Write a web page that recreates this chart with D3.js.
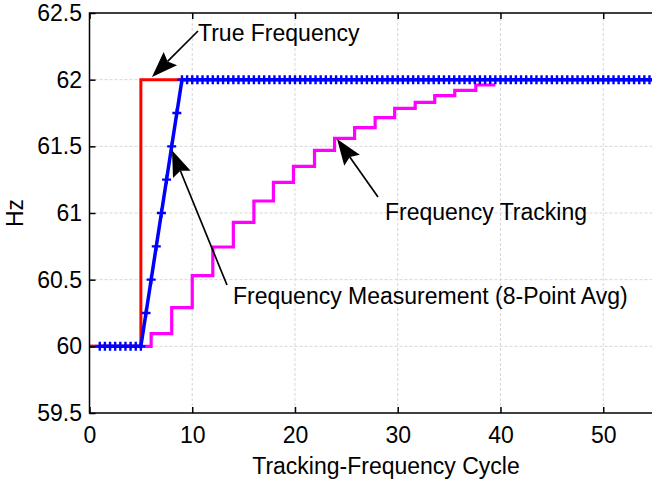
<!DOCTYPE html>
<html>
<head>
<meta charset="utf-8">
<script src="https://cdn.jsdelivr.net/npm/d3@7"></script>
<style>
body { margin: 0; background: #fff; }
text { font-family: "Liberation Sans", Arial, Helvetica, sans-serif; }
</style>
</head>
<body>
<script>

// ----------------------------------------
//  Data
// ----------------------------------------

var xTicks = [0, 10, 20, 30, 40, 50];
var yTicks = [59.5, 60, 60.5, 61, 61.5, 62, 62.5];

// true frequency (step at cycle 5)
var trueCycle = [0, 5, 55];
var trueHz = [60, 62, 62];

// frequency tracking (staircase)
var trackCycle = [0, 6, 8, 10, 12, 14, 16, 17.9, 19.85, 21.9, 23.85, 25.8, 27.8, 29.7, 31.7, 33.6, 35.55, 37.6, 39.5];
var trackHz = [60, 60.095, 60.29, 60.53, 60.745, 60.93, 61.09, 61.23, 61.35, 61.47, 61.56, 61.64, 61.715, 61.785, 61.83, 61.88, 61.92, 61.96, 61.96];

// frequency measurement, 8-point average (one sample every half cycle)
var measCycle = [
  1, 1.5, 2, 2.5, 3, 3.5, 4, 4.5, 5, 5.5, 6, 6.5, 7, 7.5, 8, 8.5, 9, 9.5, 10, 10.5,
  11, 11.5, 12, 12.5, 13, 13.5, 14, 14.5, 15, 15.5, 16, 16.5, 17, 17.5, 18, 18.5, 19, 19.5, 20, 20.5,
  21, 21.5, 22, 22.5, 23, 23.5, 24, 24.5, 25, 25.5, 26, 26.5, 27, 27.5, 28, 28.5, 29, 29.5, 30, 30.5,
  31, 31.5, 32, 32.5, 33, 33.5, 34, 34.5, 35, 35.5, 36, 36.5, 37, 37.5, 38, 38.5, 39, 39.5, 40, 40.5,
  41, 41.5, 42, 42.5, 43, 43.5, 44, 44.5, 45, 45.5, 46, 46.5, 47, 47.5, 48, 48.5, 49, 49.5, 50, 50.5,
  51, 51.5, 52, 52.5, 53, 53.5, 54, 54.5, 55
];
var measHz = [
  60, 60, 60, 60, 60, 60, 60, 60, 60, 60.25, 60.5, 60.75, 61, 61.25, 61.5, 61.75, 62, 62, 62, 62,
  62, 62, 62, 62, 62, 62, 62, 62, 62, 62, 62, 62, 62, 62, 62, 62, 62, 62, 62, 62,
  62, 62, 62, 62, 62, 62, 62, 62, 62, 62, 62, 62, 62, 62, 62, 62, 62, 62, 62, 62,
  62, 62, 62, 62, 62, 62, 62, 62, 62, 62, 62, 62, 62, 62, 62, 62, 62, 62, 62, 62,
  62, 62, 62, 62, 62, 62, 62, 62, 62, 62, 62, 62, 62, 62, 62, 62, 62, 62, 62, 62,
  62, 62, 62, 62, 62, 62, 62, 62, 62
];

// ----------------------------------------
//  Sizing
// ----------------------------------------

var W = 652, H = 480;
var margin = {top: 13, left: 89.5};
var width = 565.1, height = 400;

var x = d3.scaleLinear().domain([0, 55]).range([0, width]);
var y = d3.scaleLinear().domain([59.5, 62.5]).range([height, 0]);

var svg = d3.select("body").append("svg")
    .attr("width", W)
    .attr("height", H)
    .style("display", "block");

var g = svg.append("g")
    .attr("transform", "translate(" + margin.left + "," + margin.top + ")");

// ----------------------------------------
//  Grid
// ----------------------------------------

g.selectAll(".gx").data(xTicks.slice(1)).enter().append("line")
    .attr("x1", function(d) { return x(d); }).attr("x2", function(d) { return x(d); })
    .attr("y1", 0).attr("y2", height)
    .attr("stroke", "#d6d6d6").attr("stroke-dasharray", "3,2");

g.selectAll(".gy").data(yTicks.slice(1, -1)).enter().append("line")
    .attr("x1", 0).attr("x2", width)
    .attr("y1", function(d) { return y(d); }).attr("y2", function(d) { return y(d); })
    .attr("stroke", "#d6d6d6").attr("stroke-dasharray", "3,2");

// ----------------------------------------
//  Lines
// ----------------------------------------

function zipPts(xs, ys) {
  return xs.map(function(d, i) { return [d, ys[i]]; });
}

var stepLine = d3.line()
    .x(function(d) { return x(d[0]); })
    .y(function(d) { return y(d[1]); })
    .curve(d3.curveStepAfter);

var plainLine = d3.line()
    .x(function(d) { return x(d[0]); })
    .y(function(d) { return y(d[1]); });

g.append("path")
    .attr("d", stepLine(zipPts(trackCycle, trackHz)))
    .attr("fill", "none").attr("stroke", "#ff00ff").attr("stroke-width", 3.2);

g.append("path")
    .attr("d", stepLine(zipPts(trueCycle, trueHz)))
    .attr("fill", "none").attr("stroke", "#ff0000").attr("stroke-width", 3);

var measPts = zipPts(measCycle, measHz);

g.append("path")
    .attr("d", plainLine(measPts))
    .attr("fill", "none").attr("stroke", "#0000ff").attr("stroke-width", 3.5);

g.selectAll(".mk").data(measPts).enter().append("path")
    .attr("transform", function(d) { return "translate(" + x(d[0]) + "," + y(d[1]) + ")"; })
    .attr("d", "M-4.5,0H4.5M0,-4.5V4.5")
    .attr("stroke", "#0000ff").attr("stroke-width", 2.4);

// ----------------------------------------
//  Axes
// ----------------------------------------

var xAxis = g.append("g")
    .attr("transform", "translate(0," + height + ")")
    .call(d3.axisBottom(x).tickValues(xTicks).tickSize(-6).tickPadding(13.5).tickFormat(d3.format("d")));

var xTop = g.append("g")
    .call(d3.axisTop(x).tickValues(xTicks).tickSize(-6).tickFormat(""));

var yAxis = g.append("g")
    .call(d3.axisLeft(y).tickValues(yTicks).tickSize(-6).tickPadding(7.5).tickFormat(function(d) { return d3.format("")(d); }));

[xAxis, xTop, yAxis].forEach(function(a) {
  a.select(".domain").remove();
  a.selectAll("line").attr("stroke", "#000").attr("stroke-width", 1.5);
  a.selectAll("text").attr("fill", "#000").style("font-size", "23px")
      .style("font-family", "'Liberation Sans', Arial, sans-serif");
});

// box
g.append("rect")
    .attr("x", 0).attr("y", 0).attr("width", width).attr("height", height)
    .attr("fill", "none").attr("stroke", "#000").attr("stroke-width", 1.5);

// axis titles
svg.append("text")
    .attr("x", 386).attr("y", 474)
    .attr("text-anchor", "middle")
    .style("font-size", "23px")
    .text("Tracking-Frequency Cycle");

svg.append("text")
    .attr("transform", "translate(23," + (margin.top + height / 2) + ") rotate(-90)")
    .attr("text-anchor", "middle")
    .style("font-size", "23px")
    .text("Hz");

// ----------------------------------------
//  Annotations (positions in data units)
// ----------------------------------------

var notes = [
  {label: "True Frequency", tx: 10.56, ty: 62.29, from: [10.56, 62.365], to: [6.08, 62.02]},
  {label: "Frequency Measurement (8-Point Avg)", tx: 13.97, ty: 60.32, from: [13.38, 60.46], to: [8.03, 61.47]},
  {label: "Frequency Tracking", tx: 28.76, ty: 60.95, from: [28.08, 61.12], to: [24.09, 61.555]}
];

notes.forEach(function(n) {
  var x0 = x(n.from[0]), y0 = y(n.from[1]);
  var x1 = x(n.to[0]), y1 = y(n.to[1]);
  var dx = x1 - x0, dy = y1 - y0, len = Math.sqrt(dx * dx + dy * dy);
  var ux = dx / len, uy = dy / len;
  var hl = 26, hw = 9.5;
  var bx = x1 - ux * hl, by = y1 - uy * hl;
  var nx = x1 - ux * hl * 0.85, ny = y1 - uy * hl * 0.85;

  g.append("line")
      .attr("x1", x0).attr("y1", y0).attr("x2", nx).attr("y2", ny)
      .attr("stroke", "#000").attr("stroke-width", 1.7);

  g.append("path")
      .attr("d", "M" + x1 + "," + y1 +
        "L" + (bx - uy * hw) + "," + (by + ux * hw) +
        "L" + nx + "," + ny +
        "L" + (bx + uy * hw) + "," + (by - ux * hw) + "Z")
      .attr("fill", "#000");

  g.append("text")
      .attr("x", x(n.tx)).attr("y", y(n.ty))
      .style("font-size", "23px")
      .text(n.label);
});

</script>
</body>
</html>
